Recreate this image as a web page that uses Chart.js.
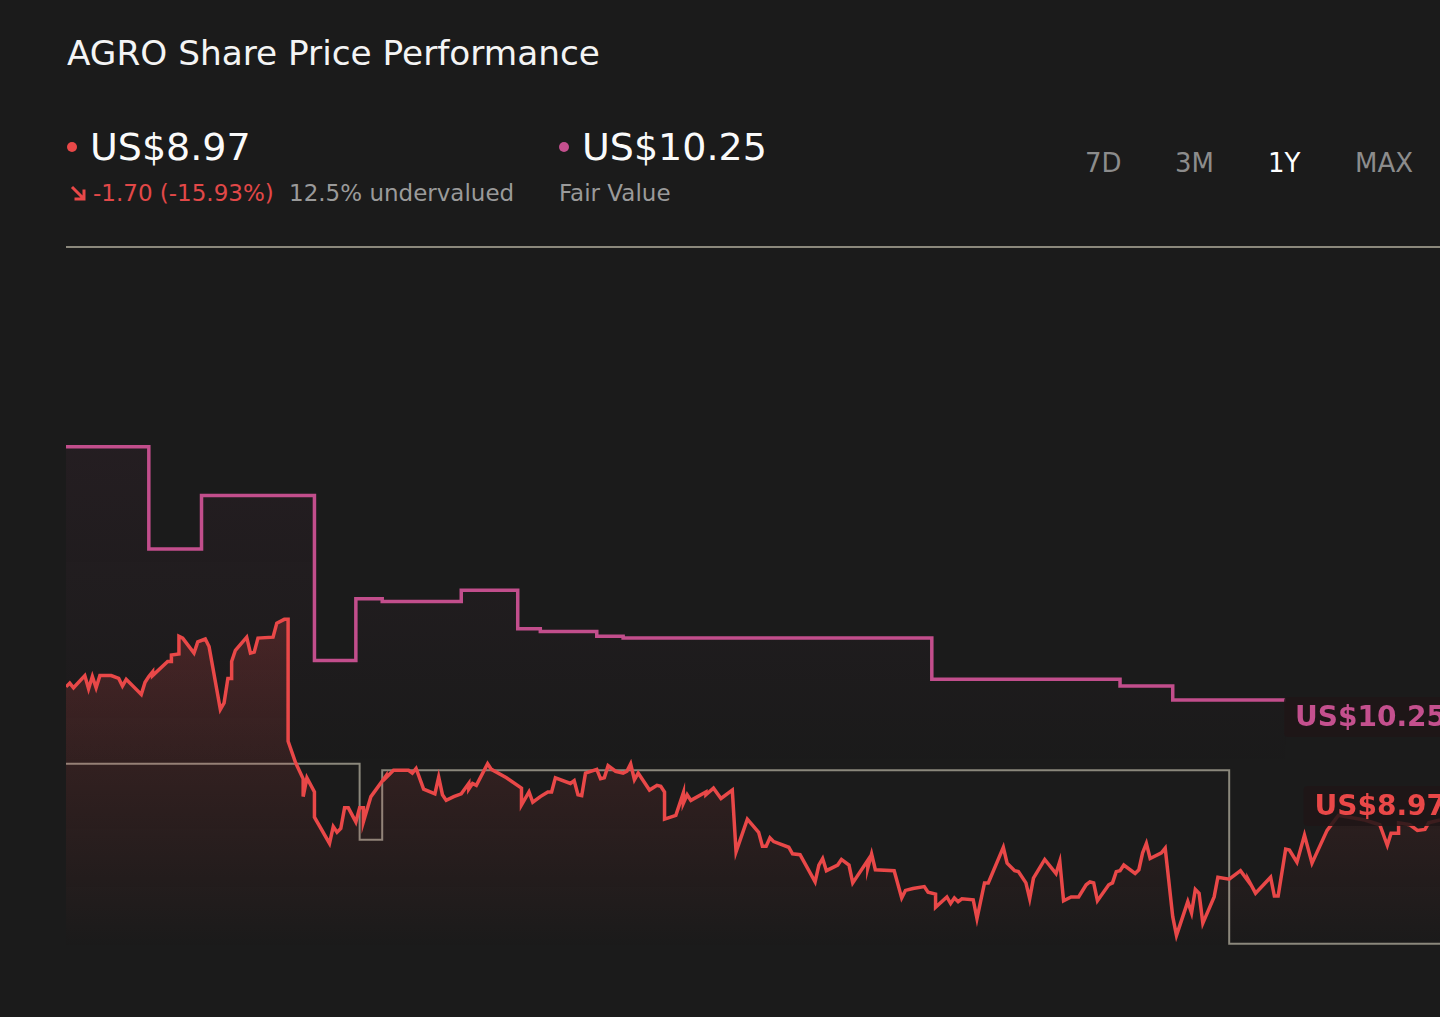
<!DOCTYPE html>
<html>
<head>
<meta charset="utf-8">
<title>AGRO Share Price Performance</title>
<script src="https://cdn.jsdelivr.net/npm/chart.js@4.4.1/dist/chart.umd.min.js"></script>
<style>
  html, body { margin: 0; padding: 0; background: #1b1b1b; }
  body { width: 1440px; height: 1017px; position: relative; overflow: hidden; font-family: "DejaVu Sans", sans-serif; color: #fff; }
  .t { position: absolute; line-height: 1; white-space: nowrap; }
  .dot { position: absolute; width: 10px; height: 10px; border-radius: 50%; }
  .big { font-size: 38px; color: #fafafa; }
  .sub { font-size: 23px; color: #9a9a9a; }
  .tab { font-size: 26px; color: #8c8c8c; top: 150px; }
  #chartBox { position: absolute; left: 66px; top: 240px; width: 1374px; height: 777px; }
</style>
</head>
<body>
  <div class="t" style="left:67px; top:36px; font-size:34.3px; color:#f4f4f4;">AGRO Share Price Performance</div>

  <div class="dot" style="left:67px; top:142px; background:#e94848;"></div>
  <div class="t big" style="left:90px; top:128px;">US$8.97</div>
  <svg style="position:absolute; left:69px; top:184px;" width="18" height="18" viewBox="0 0 18 18">
    <path d="M3 3 L15 15 M15 5.5 L15 15 L5.5 15" stroke="#e94848" stroke-width="3" fill="none"/>
  </svg>
  <div class="t sub" style="left:93px; top:182px; color:#e24848;">-1.70 (-15.93%)</div>
  <div class="t sub" style="left:289px; top:182px;">12.5% undervalued</div>

  <div class="dot" style="left:559px; top:142px; background:#c4508e;"></div>
  <div class="t big" style="left:582px; top:128px;">US$10.25</div>
  <div class="t sub" style="left:559px; top:182px;">Fair Value</div>

  <div class="t tab" style="left:1085px;">7D</div>
  <div class="t tab" style="left:1175px;">3M</div>
  <div class="t tab" style="left:1268px; color:#ffffff;">1Y</div>
  <div class="t tab" style="left:1355px;">MAX</div>

  <div id="chartBox"><canvas id="perf"></canvas></div>

<script>
// days since start of the 1Y window
const priceDays = [
  0,1,2,5,6,7,8,9,12,14,
  15,16,20,21,22,23,23,27,28,28,
  30,30,31,34,35,37,38,41,42,43,
  44,44,45,48,49,50,51,55,56,58,
  59,59,61,63,63,64,66,66,70,71,
  72,73,74,75,77,78,79,79,81,85,
  85,87,91,92,93,95,98,99,100,101,
  103,105,107,107,108,109,112,113,117,121,
  121,123,124,126,128,129,130,134,135,136,
  137,138,141,142,143,144,146,148,149,150,
  151,152,155,157,158,159,159,162,164,164,
  165,166,170,170,172,174,177,178,181,184,
  185,186,187,188,192,193,195,199,200,201,
  202,205,206,208,209,213,213,214,215,220,
  222,223,225,228,229,231,231,234,235,236,
  237,238,241,242,244,245,249,250,252,253,
  255,256,257,260,263,264,265,267,269,271,
  272,273,274,277,278,279,280,281,284,285,
  286,287,288,291,292,294,295,298,299,300,
  301,302,305,306,309,312,314,314,316,320,
  321,322,324,325,327,329,331,335,338,345,
  349,351,352,354,354,357,359,361,362,365
];
const priceValues = [
  10.39,10.43,10.38,10.51,10.37,10.50,10.38,10.51,10.51,10.48,
  10.40,10.47,10.31,10.44,10.50,10.55,10.51,10.66,10.66,10.73,
  10.74,10.93,10.91,10.75,10.87,10.90,10.82,10.15,10.22,10.48,
  10.48,10.66,10.78,10.92,10.75,10.76,10.91,10.92,11.07,11.11,
  11.11,9.81,9.58,9.41,9.22,9.42,9.27,9.00,8.72,8.90,
  8.84,8.88,9.10,9.10,8.95,9.10,9.10,8.95,9.22,9.44,
  9.42,9.50,9.50,9.47,9.52,9.30,9.25,9.43,9.24,9.18,
  9.22,9.25,9.36,9.30,9.36,9.34,9.57,9.51,9.42,9.31,
  9.13,9.27,9.16,9.22,9.27,9.27,9.42,9.36,9.39,9.24,
  9.23,9.47,9.51,9.41,9.42,9.55,9.49,9.47,9.49,9.57,
  9.40,9.47,9.29,9.34,9.33,9.27,8.98,9.02,9.26,9.15,
  9.24,9.18,9.27,9.24,9.31,9.20,9.29,8.63,8.98,8.84,
  8.69,8.69,8.78,8.74,8.68,8.61,8.60,8.31,8.49,8.56,
  8.43,8.49,8.55,8.49,8.30,8.54,8.46,8.61,8.44,8.43,
  8.14,8.22,8.24,8.26,8.20,8.18,8.04,8.15,8.08,8.14,
  8.10,8.13,8.12,7.92,8.30,8.30,8.68,8.51,8.43,8.42,
  8.30,8.13,8.35,8.55,8.40,8.53,8.11,8.15,8.15,8.28,
  8.31,8.30,8.11,8.28,8.30,8.42,8.43,8.49,8.40,8.44,
  8.62,8.72,8.56,8.62,8.67,7.94,7.74,8.10,7.98,8.23,
  8.19,7.87,8.15,8.36,8.34,8.43,8.32,8.34,8.19,8.36,
  8.16,8.16,8.66,8.65,8.52,8.81,8.51,8.86,9.02,8.97,
  8.92,8.70,8.83,8.83,8.94,8.92,8.86,8.87,8.94,8.97
];

// fair value estimate, changes on the given days
const fairDays   = [0, 22, 36, 66, 77, 84, 105, 120, 126, 141, 148, 230, 280, 294, 324];
const fairValues = [12.95, 11.86, 12.43, 10.67, 11.33, 11.30, 11.42, 11.01, 10.98, 10.93, 10.91, 10.47, 10.40, 10.25, 10.25];

// grey reference step
const refDays   = [0, 78, 84, 309, 365];
const refValues = [9.57, 8.76, 9.50, 7.65, 7.65];

const RED = '#e94848';
const PINK = '#c24e8c';
const GREY = '#8b887c';

function toPoints(xs, ys) {
  return xs.map((d, i) => ({ x: d, y: ys[i] }));
}

function fadeFill(rgb, topVal, bottomVal, alpha) {
  return (context) => {
    const chart = context.chart;
    if (!chart.chartArea) return 'rgba(0,0,0,0)';
    const y = chart.scales.y;
    const g = chart.ctx.createLinearGradient(0, y.getPixelForValue(topVal), 0, y.getPixelForValue(bottomVal));
    g.addColorStop(0, 'rgba(' + rgb + ',' + alpha + ')');
    g.addColorStop(1, 'rgba(' + rgb + ',0)');
    return g;
  };
}

const overlay = {
  id: 'overlay',
  beforeDatasetsDraw(chart) {
    const { ctx, chartArea } = chart;
    ctx.save();
    ctx.strokeStyle = GREY;
    ctx.lineWidth = 2;
    ctx.beginPath();
    ctx.moveTo(chartArea.left, chartArea.top);
    ctx.lineTo(chartArea.right, chartArea.top);
    ctx.stroke();
    ctx.restore();
  },
  afterDatasetsDraw(chart) {
    const { ctx, chartArea, scales } = chart;
    const tag = (text, color, baseY) => {
      ctx.save();
      ctx.font = 'bold 28px "DejaVu Sans"';
      const w = ctx.measureText(text).width;
      const right = chartArea.right + 6;
      const left = right - w - 11;
      ctx.fillStyle = 'rgba(31,22,23,0.86)';
      ctx.beginPath();
      ctx.roundRect(left, baseY - 29, w + 40, 40, 4);
      ctx.fill();
      ctx.fillStyle = color;
      ctx.textAlign = 'right';
      ctx.textBaseline = 'alphabetic';
      ctx.fillText(text, right, baseY);
      ctx.restore();
    };
    tag('US$10.25', '#c4508e', scales.y.getPixelForValue(fairValues[fairValues.length - 1]) + 26);
    tag('US$8.97', RED, scales.y.getPixelForValue(priceValues[priceValues.length - 1]) - 5);
  }
};

new Chart(document.getElementById('perf'), {
  type: 'line',
  data: {
    datasets: [
      {
        label: 'Share price',
        data: toPoints(priceDays, priceValues),
        borderColor: RED,
        borderWidth: 3.5,
        pointRadius: 0,
        tension: 0,
        fill: 'start',
        backgroundColor: fadeFill('233,72,72', 11.1, 7.6, 0.2),
        order: 0
      },
      {
        label: 'Fair value',
        data: toPoints(fairDays, fairValues),
        borderColor: PINK,
        borderWidth: 3.5,
        pointRadius: 0,
        stepped: 'before',
        fill: 'start',
        backgroundColor: fadeFill('196,80,142', 13, 9.5, 0.06),
        order: 1
      },
      {
        label: 'Reference',
        data: toPoints(refDays, refValues),
        borderColor: GREY,
        borderWidth: 2,
        pointRadius: 0,
        stepped: 'before',
        fill: false,
        order: 2
      }
    ]
  },
  options: {
    responsive: true,
    maintainAspectRatio: false,
    animation: false,
    layout: { padding: { top: 7, left: 0, right: 0, bottom: 0 } },
    plugins: {
      legend: { display: false },
      tooltip: { enabled: false }
    },
    scales: {
      x: { type: 'linear', display: false, min: 0, max: 365 },
      y: { display: false, min: 6.87, max: 15.08 }
    }
  },
  plugins: [overlay]
});
</script>
</body>
</html>
